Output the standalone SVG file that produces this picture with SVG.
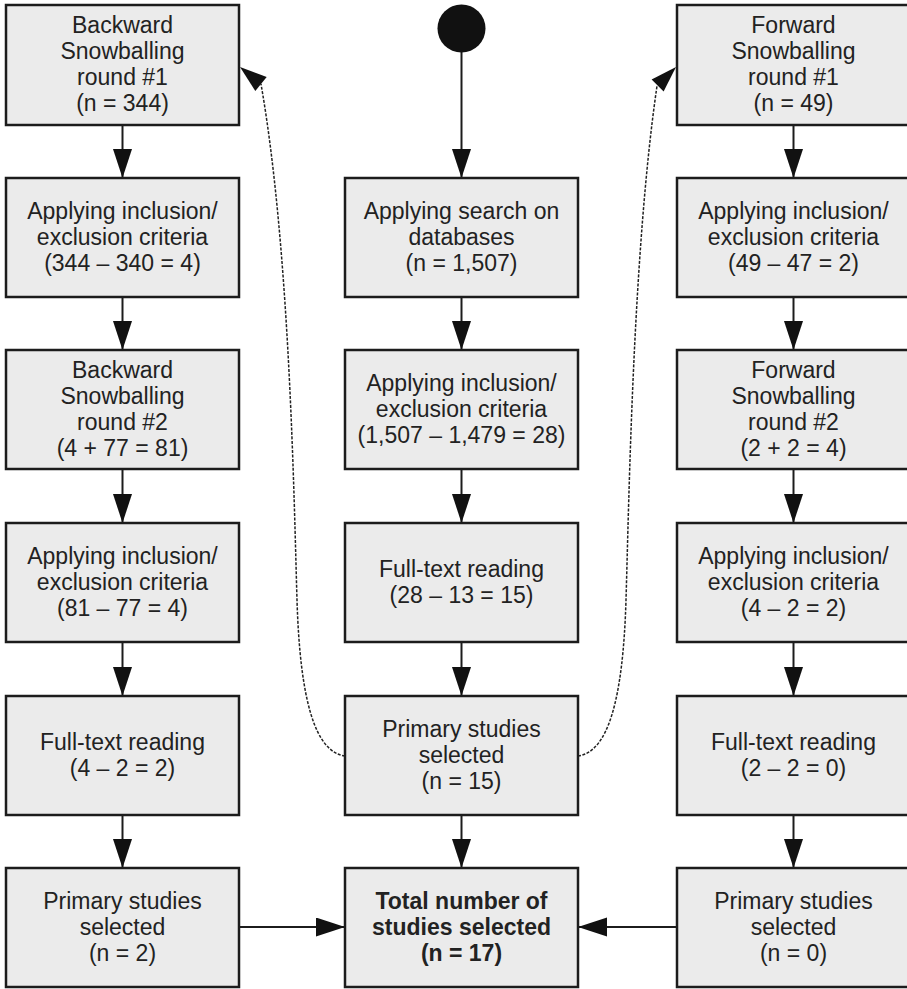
<svg xmlns="http://www.w3.org/2000/svg" width="907" height="989" viewBox="0 0 907 989">
  <style>
    .box { fill: #ebebeb; stroke: #1c1c1c; stroke-width: 2.5; }
    .lbl { font-family: "Liberation Sans", Arial, sans-serif; font-size: 23px; fill: #222; text-anchor: middle; }
    .bold { font-weight: bold; }
    .edge { stroke: #1c1c1c; stroke-width: 2; fill: none; }
    .dash { stroke: #222; stroke-width: 1.5; fill: none; stroke-dasharray: 3 1.5; }
    .head { fill: #111; }
  </style>
  <defs>
    <marker id="arrow" markerUnits="userSpaceOnUse" markerWidth="30" markerHeight="20" refX="29" refY="9.5" orient="auto">
      <path d="M0,0 L29,9.5 L0,19 z" class="head"/>
    </marker>
  </defs>
  <rect width="907" height="989" fill="#ffffff"/>

  <!-- connectors -->
  <g id="connectors">
    <!-- start -->
    <line class="edge" x1="461.5" y1="52" x2="461.5" y2="178" marker-end="url(#arrow)"/>
    <!-- left column -->
    <line class="edge" x1="122.5" y1="125" x2="122.5" y2="178" marker-end="url(#arrow)"/>
    <line class="edge" x1="122.5" y1="297" x2="122.5" y2="350" marker-end="url(#arrow)"/>
    <line class="edge" x1="122.5" y1="469" x2="122.5" y2="523" marker-end="url(#arrow)"/>
    <line class="edge" x1="122.5" y1="642" x2="122.5" y2="696" marker-end="url(#arrow)"/>
    <line class="edge" x1="122.5" y1="815" x2="122.5" y2="868" marker-end="url(#arrow)"/>
    <!-- middle column -->
    <line class="edge" x1="461.5" y1="297" x2="461.5" y2="350" marker-end="url(#arrow)"/>
    <line class="edge" x1="461.5" y1="469" x2="461.5" y2="523" marker-end="url(#arrow)"/>
    <line class="edge" x1="461.5" y1="642" x2="461.5" y2="696" marker-end="url(#arrow)"/>
    <line class="edge" x1="461.5" y1="815" x2="461.5" y2="868" marker-end="url(#arrow)"/>
    <!-- right column -->
    <line class="edge" x1="793.5" y1="125" x2="793.5" y2="178" marker-end="url(#arrow)"/>
    <line class="edge" x1="793.5" y1="297" x2="793.5" y2="350" marker-end="url(#arrow)"/>
    <line class="edge" x1="793.5" y1="469" x2="793.5" y2="523" marker-end="url(#arrow)"/>
    <line class="edge" x1="793.5" y1="642" x2="793.5" y2="696" marker-end="url(#arrow)"/>
    <line class="edge" x1="793.5" y1="815" x2="793.5" y2="868" marker-end="url(#arrow)"/>
    <!-- into the total -->
    <line class="edge" x1="239" y1="927" x2="345" y2="927" marker-end="url(#arrow)"/>
    <line class="edge" x1="677" y1="927" x2="578" y2="927" marker-end="url(#arrow)"/>
    <!-- snowballing loops -->
    <path class="dash" d="M345,756 C315,752 300,700 297,600 C294,500 290,250 261,84"/>
    <polygon class="head" points="240,67 266.7,77 255.3,91"/>
    <path class="dash" d="M578,756 C608,752 623,700 626,600 C629,500 633,250 657,86"/>
    <polygon class="head" points="676,67 663.6,91.6 651.6,79.6"/>
  </g>

  <g id="start">
    <circle cx="461.5" cy="28.5" r="24" fill="#111"/>
  </g>

  <!-- left column: backward snowballing -->
  <g id="bs1">
    <rect class="box" x="6" y="5" width="233" height="120"/>
    <text class="lbl"><tspan x="122.5" y="32.5">Backward</tspan><tspan x="122.5" y="58.5">Snowballing</tspan><tspan x="122.5" y="84.5">round #1</tspan><tspan x="122.5" y="110.5">(n = 344)</tspan></text>
  </g>
  <g id="bs1-criteria">
    <rect class="box" x="6" y="178" width="233" height="119"/>
    <text class="lbl"><tspan x="122.5" y="218.5">Applying inclusion/</tspan><tspan x="122.5" y="244.5">exclusion criteria</tspan><tspan x="122.5" y="270.5">(344 – 340 = 4)</tspan></text>
  </g>
  <g id="bs2">
    <rect class="box" x="6" y="350" width="233" height="119"/>
    <text class="lbl"><tspan x="122.5" y="377.5">Backward</tspan><tspan x="122.5" y="403.5">Snowballing</tspan><tspan x="122.5" y="429.5">round #2</tspan><tspan x="122.5" y="455.5">(4 + 77 = 81)</tspan></text>
  </g>
  <g id="bs2-criteria">
    <rect class="box" x="6" y="523" width="233" height="119"/>
    <text class="lbl"><tspan x="122.5" y="563.5">Applying inclusion/</tspan><tspan x="122.5" y="589.5">exclusion criteria</tspan><tspan x="122.5" y="615.5">(81 – 77 = 4)</tspan></text>
  </g>
  <g id="bs-fulltext">
    <rect class="box" x="6" y="696" width="233" height="119"/>
    <text class="lbl"><tspan x="122.5" y="749.5">Full-text reading</tspan><tspan x="122.5" y="775.5">(4 – 2 = 2)</tspan></text>
  </g>
  <g id="bs-selected">
    <rect class="box" x="6" y="868" width="233" height="119"/>
    <text class="lbl"><tspan x="122.5" y="908.5">Primary studies</tspan><tspan x="122.5" y="934.5">selected</tspan><tspan x="122.5" y="960.5">(n = 2)</tspan></text>
  </g>

  <!-- middle column: database search -->
  <g id="search">
    <rect class="box" x="345" y="178" width="233" height="119"/>
    <text class="lbl"><tspan x="461.5" y="218.5">Applying search on</tspan><tspan x="461.5" y="244.5">databases</tspan><tspan x="461.5" y="270.5">(n = 1,507)</tspan></text>
  </g>
  <g id="search-criteria">
    <rect class="box" x="345" y="350" width="233" height="119"/>
    <text class="lbl"><tspan x="461.5" y="390.5">Applying inclusion/</tspan><tspan x="461.5" y="416.5">exclusion criteria</tspan><tspan x="461.5" y="442.5">(1,507 – 1,479 = 28)</tspan></text>
  </g>
  <g id="search-fulltext">
    <rect class="box" x="345" y="523" width="233" height="119"/>
    <text class="lbl"><tspan x="461.5" y="576.5">Full-text reading</tspan><tspan x="461.5" y="602.5">(28 – 13 = 15)</tspan></text>
  </g>
  <g id="search-selected">
    <rect class="box" x="345" y="696" width="233" height="119"/>
    <text class="lbl"><tspan x="461.5" y="736.5">Primary studies</tspan><tspan x="461.5" y="762.5">selected</tspan><tspan x="461.5" y="788.5">(n = 15)</tspan></text>
  </g>
  <g id="total">
    <rect class="box" x="345" y="868" width="233" height="119"/>
    <text class="lbl bold"><tspan x="461.5" y="908.5">Total number of</tspan><tspan x="461.5" y="934.5">studies selected</tspan><tspan x="461.5" y="960.5">(n = 17)</tspan></text>
  </g>

  <!-- right column: forward snowballing -->
  <g id="fs1">
    <rect class="box" x="677" y="5" width="233" height="120"/>
    <text class="lbl"><tspan x="793.5" y="32.5">Forward</tspan><tspan x="793.5" y="58.5">Snowballing</tspan><tspan x="793.5" y="84.5">round #1</tspan><tspan x="793.5" y="110.5">(n = 49)</tspan></text>
  </g>
  <g id="fs1-criteria">
    <rect class="box" x="677" y="178" width="233" height="119"/>
    <text class="lbl"><tspan x="793.5" y="218.5">Applying inclusion/</tspan><tspan x="793.5" y="244.5">exclusion criteria</tspan><tspan x="793.5" y="270.5">(49 – 47 = 2)</tspan></text>
  </g>
  <g id="fs2">
    <rect class="box" x="677" y="350" width="233" height="119"/>
    <text class="lbl"><tspan x="793.5" y="377.5">Forward</tspan><tspan x="793.5" y="403.5">Snowballing</tspan><tspan x="793.5" y="429.5">round #2</tspan><tspan x="793.5" y="455.5">(2 + 2 = 4)</tspan></text>
  </g>
  <g id="fs2-criteria">
    <rect class="box" x="677" y="523" width="233" height="119"/>
    <text class="lbl"><tspan x="793.5" y="563.5">Applying inclusion/</tspan><tspan x="793.5" y="589.5">exclusion criteria</tspan><tspan x="793.5" y="615.5">(4 – 2 = 2)</tspan></text>
  </g>
  <g id="fs-fulltext">
    <rect class="box" x="677" y="696" width="233" height="119"/>
    <text class="lbl"><tspan x="793.5" y="749.5">Full-text reading</tspan><tspan x="793.5" y="775.5">(2 – 2 = 0)</tspan></text>
  </g>
  <g id="fs-selected">
    <rect class="box" x="677" y="868" width="233" height="119"/>
    <text class="lbl"><tspan x="793.5" y="908.5">Primary studies</tspan><tspan x="793.5" y="934.5">selected</tspan><tspan x="793.5" y="960.5">(n = 0)</tspan></text>
  </g>
</svg>
